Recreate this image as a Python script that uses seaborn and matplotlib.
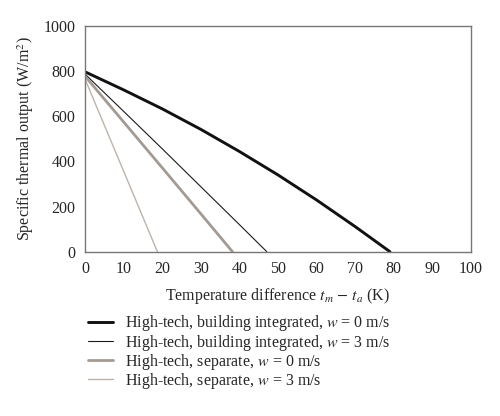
import numpy as np
import pandas as pd
import matplotlib
matplotlib.use("Agg")
import matplotlib.pyplot as plt
import seaborn as sns

sns.set_style("white")
plt.rcParams["font.family"] = ["Liberation Serif", "DejaVu Serif"]
plt.rcParams["mathtext.fontset"] = "stix"

labels = [
    "High-tech, building integrated, $w$ = 0 m/s",
    "High-tech, building integrated, $w$ = 3 m/s",
    "High-tech, separate, $w$ = 0 m/s",
    "High-tech, separate, $w$ = 3 m/s",
]

t_bi0 = [0, 10, 20, 30, 40, 50, 60, 70, 79]
q_bi0 = [797, 717, 633, 542, 444, 340, 229, 111, 0]

t_bi3 = [0, 10, 20, 30, 40, 47.1]
q_bi3 = [787, 622, 456, 288, 120, 0]

t_se0 = [0, 10, 20, 30, 38.2]
q_se0 = [778, 575, 372, 168, 0]

t_se3 = [0, 5, 10, 15, 18.75]
q_se3 = [765, 561, 357, 153, 0]

x_ticks = [0, 10, 20, 30, 40, 50, 60, 70, 80, 90, 100]
y_ticks = [0, 200, 400, 600, 800, 1000]

series = [(t_bi0, q_bi0), (t_bi3, q_bi3), (t_se0, q_se0), (t_se3, q_se3)]
colors = ["#111111", "#1a1a1a", "#a39b93", "#bcb4ac"]
widths = [2.1, 0.8, 2.0, 1.0]

fig = plt.figure(figsize=(5, 4.16), dpi=100)
ax = fig.add_axes([0.17, 0.395, 0.772, 0.5425])

for (t, q), lab, c, lw in zip(series, labels, colors, widths):
    df = pd.DataFrame({"t": t, "q": q})
    sns.lineplot(data=df, x="t", y="q", ax=ax, color=c, linewidth=lw,
                 label=lab, legend=False, sort=False)

ax.set_xlim(0, 100)
ax.set_ylim(0, 1000)
ax.set_xticks(x_ticks)
ax.set_yticks(y_ticks)
ax.tick_params(axis="both", direction="out", length=4, width=0.8,
               color="#666666", labelsize=11.5, pad=3)
for s in ax.spines.values():
    s.set_color("#777777")
    s.set_linewidth(1.0)

ax.set_xlabel("Temperature difference $t_m$ $-$ $t_a$ (K)", fontsize=11.5, labelpad=6)
ax.set_ylabel("Specific thermal output (W/m$^2$)", fontsize=11.5, labelpad=5)

handles, labs = ax.get_legend_handles_labels()
fig.legend(handles, labs, loc="upper left", bbox_to_anchor=(0.164, 0.262),
           frameon=False, fontsize=11.5, handlelength=1.55, handletextpad=0.75,
           labelspacing=-0.05, borderaxespad=0)

plt.savefig("out.png", dpi=100)
